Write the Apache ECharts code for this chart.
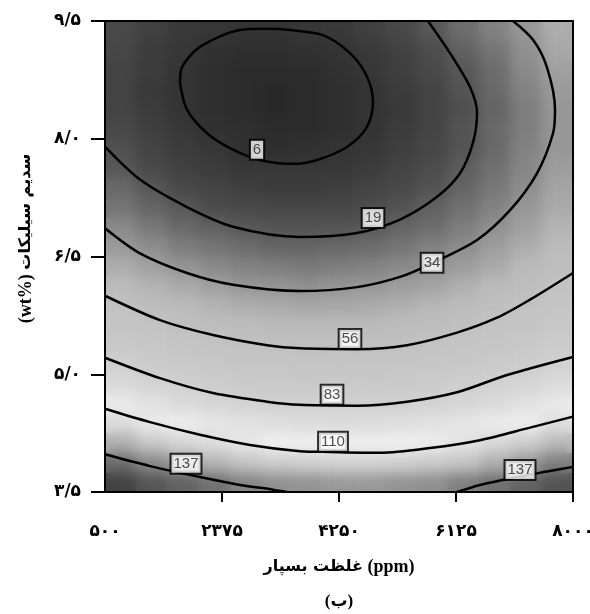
<!DOCTYPE html>
<html>
<head>
<meta charset="utf-8">
<script src="https://cdn.jsdelivr.net/npm/echarts@6/dist/echarts.min.js"></script>
<style>
html,body{margin:0;padding:0;background:#fff;}
#wrap{position:relative;width:590px;height:614px;}
#base,#main{position:absolute;left:0;top:0;width:590px;height:614px;}
#clip{position:absolute;left:105px;top:21px;width:468px;height:471px;overflow:hidden;}
#soft{width:468px;height:471px;filter:blur(7px);}
</style>
</head>
<body>
<div id="wrap">
    <div id="base"></div>
    <div id="clip"><div id="soft"></div></div>
    <div id="main"></div>
</div>
<script>
// سطح پاسخ: مراکز خانه‌ها (غلظت بسپار ppm ، سدیم سیلیکات wt%)
var xCells = [750, 1250, 1750, 2250, 2750, 3250, 3750, 4250, 4750, 5250, 5750, 6250, 6750, 7250, 7750];
var yCells = [3.625, 3.875, 4.125, 4.375, 4.625, 4.875, 5.125, 5.375, 5.625, 5.875, 6.125, 6.375,
              6.625, 6.875, 7.125, 7.375, 7.625, 7.875, 8.125, 8.375, 8.625, 8.875, 9.125, 9.375];
// مقدار پاسخ در هر خانه، از پایین به بالا (برآورد از روی خطوط تراز)
var surfaceRows = [
    [150,144,140,136,132,130,129,128,128,129,130,133,136,140,145],
    [137,131,127,123,120,117,116,115,115,116,118,120,124,128,133],
    [124,119,114,111,108,105,104,103,104,105,106,109,113,117,122],
    [112,107,103, 99, 96, 94, 93, 92, 93, 94, 96, 98,102,106,111],
    [101, 96, 92, 88, 85, 83, 82, 82, 82, 83, 85, 88, 92, 96,101],
    [ 91, 86, 81, 78, 75, 73, 72, 72, 72, 74, 76, 79, 83, 87, 92],
    [ 81, 76, 72, 68, 66, 64, 63, 63, 63, 65, 67, 70, 74, 78, 84],
    [ 71, 67, 63, 59, 57, 55, 54, 54, 55, 56, 59, 62, 66, 70, 76],
    [ 63, 58, 54, 51, 49, 47, 46, 46, 47, 49, 51, 54, 58, 63, 69],
    [ 55, 50, 47, 43, 41, 40, 39, 39, 40, 42, 44, 48, 52, 57, 62],
    [ 48, 43, 40, 37, 34, 33, 32, 33, 34, 36, 38, 42, 46, 51, 57],
    [ 41, 37, 33, 30, 28, 27, 26, 27, 28, 30, 32, 36, 40, 45, 51],
    [ 35, 31, 27, 25, 23, 21, 21, 22, 23, 25, 28, 31, 36, 41, 47],
    [ 30, 26, 22, 20, 18, 17, 17, 17, 18, 21, 23, 27, 32, 37, 43],
    [ 25, 21, 18, 15, 14, 13, 13, 13, 15, 17, 20, 24, 28, 34, 40],
    [ 22, 18, 14, 12, 10,  9,  9, 10, 12, 14, 17, 21, 26, 31, 38],
    [ 18, 14, 11,  9,  7,  7,  7,  7,  9, 12, 15, 19, 24, 29, 36],
    [ 16, 12,  9,  7,  5,  4,  5,  6,  7, 10, 13, 17, 22, 28, 34],
    [ 14, 10,  7,  5,  4,  3,  3,  4,  6,  9, 12, 17, 22, 27, 34],
    [ 12,  9,  6,  4,  3,  2,  3,  4,  6,  8, 12, 16, 21, 27, 34],
    [ 12,  8,  6,  4,  3,  2,  3,  4,  6,  9, 12, 17, 22, 28, 35],
    [ 12,  9,  6,  4,  3,  3,  3,  5,  7, 10, 14, 18, 23, 30, 37],
    [ 13,  9,  7,  5,  4,  4,  5,  6,  8, 11, 15, 20, 25, 32, 39],
    [ 14, 11,  8,  7,  6,  6,  7,  8, 11, 14, 18, 23, 28, 34, 41]
];

// خطوط تراز
var line6 = [[1702,8.71],[1734,8.91],[2022,9.17],[2663,9.385],[3064,9.40],[3465,9.385],[3994,9.32],
             [4426,9.09],[4699,8.79],[4795,8.455],[4699,8.15],[4378,7.895],[3898,7.73],[3513,7.68],
             [2984,7.73],[2551,7.86],[2135,8.07],[1814,8.37],[1702,8.71]];
var line19 = [[500,7.90],[1061,7.48],[1814,7.13],[2551,6.88],[3625,6.75],[4539,6.80],[5227,6.97],
              [5821,7.26],[6189,7.56],[6397,7.95],[6462,8.33],[6349,8.66],[6029,9.09],[5676,9.50]];
var line34 = [[500,6.86],[1061,6.54],[1814,6.29],[2551,6.14],[3625,6.06],[4539,6.11],[5227,6.24],
              [5757,6.42],[6462,6.71],[6991,7.09],[7423,7.56],[7680,8.07],[7712,8.37],[7583,8.91],
              [7359,9.26],[7039,9.50]];
var line56 = [[500,6.00],[1381,5.69],[2231,5.50],[3096,5.37],[3625,5.33],[4539,5.32],[5340,5.37],
              [6141,5.53],[6782,5.72],[7311,5.95],[8000,6.29]];
var line83 = [[500,5.21],[1381,4.95],[2231,4.76],[3096,4.65],[3625,4.61],[4539,4.60],[5340,4.65],
              [6141,4.77],[6943,4.99],[8000,5.22]];
var line110 = [[500,4.56],[1221,4.39],[2022,4.23],[2824,4.10],[3625,4.02],[4106,4.01],[4907,4.00],
               [5708,4.06],[6510,4.16],[7311,4.32],[8000,4.46]];
var line137a = [[500,3.98],[1221,3.83],[2022,3.69],[2663,3.59],[3192,3.53],[3417,3.50]];
var line137b = [[6141,3.50],[6510,3.59],[7103,3.69],[7583,3.76],[8000,3.82]];
var contourLines = [line6, line19, line34, line56, line83, line110, line137a, line137b];

// برچسب خطوط تراز
var labelTexts = ['6', '19', '34', '56', '83', '110', '137', '137'];
var labelPoints = [[2936,7.86],[4795,6.99],[5741,6.42],[4426,5.45],[4138,4.74],[4154,4.14],[1798,3.86],[7151,3.78]];

var xTickValues = [500, 2375, 4250, 6125, 8000];
var xTickLabels = ['۵۰۰', '۲۳۷۵', '۴۲۵۰', '۶۱۲۵', '۸۰۰۰'];
var yTickValues = [3.5, 5, 6.5, 8, 9.5];
var yTickLabels = ['۳/۵', '۵/۰', '۶/۵', '۸/۰', '۹/۵'];

var heatData = [];
for (var j = 0; j < yCells.length; j++) {
    for (var i = 0; i < xCells.length; i++) {
        heatData.push([i, j, surfaceRows[j][i]]);
    }
}

// رنگ خاکستری سطح (یکسان برای لایه تیز و لایه نرم)
function heatOption(gridPos, bg) {
    return {
        backgroundColor: bg,
        animation: false,
        grid: gridPos,
        visualMap: {
            show: false, dimension: 2, min: 0, max: 165,
            inRange: {color: ['#242424', '#4c4c4c', '#8a8a8a', '#bababa', '#c4c4c4', '#cacaca',
                              '#d8d8d8', '#f0f0f0', '#c4c4c4', '#747474', '#424242', '#2a2a2a']}
        },
        xAxis: {type: 'category', data: xCells, show: false},
        yAxis: {type: 'category', data: yCells, show: false},
        series: [{type: 'heatmap', data: heatData, silent: true, itemStyle: {borderWidth: 0}}]
    };
}

var baseChart = echarts.init(document.getElementById('base'));
baseChart.setOption(heatOption({left: 105, top: 21, width: 468, height: 471, outerBoundsMode: 'none'}, '#fff'));
var softChart = echarts.init(document.getElementById('soft'));
softChart.setOption(heatOption({left: 0, top: 0, right: 0, bottom: 0, outerBoundsMode: 'none'}, 'transparent'));

var lineSeries = [];
for (var k = 0; k < contourLines.length; k++) {
    lineSeries.push({
        type: 'line', data: contourLines[k], smooth: 0.3, symbol: 'none', silent: true,
        lineStyle: {color: '#000', width: 2.5}, z: 3
    });
}

var labelData = [];
for (var m = 0; m < labelPoints.length; m++) {
    labelData.push({name: labelTexts[m], value: labelPoints[m]});
}

var faStyle = {fontFamily: 'DejaVu Sans', fontWeight: 'bold', fontSize: 16, color: '#000'};
var enStyle = {fontFamily: '"Liberation Serif", serif', fontWeight: 'bold', fontSize: 18, color: '#000'};

var myChart = echarts.init(document.getElementById('main'));
var option = {
    backgroundColor: 'transparent',
    animation: false,
    grid: {left: 105, top: 21, width: 468, height: 471, show: true, borderColor: '#000', borderWidth: 2,
           backgroundColor: 'transparent', outerBoundsMode: 'none'},
    xAxis: {
        type: 'value', min: 500, max: 8000,
        axisLine: {show: true, lineStyle: {color: '#000', width: 2}},
        axisTick: {show: true, customValues: [2375, 4250, 6125, 8000], length: 10,
                   lineStyle: {color: '#000', width: 2}},
        axisLabel: {
            customValues: xTickValues, margin: 31, color: '#000', fontSize: 17,
            fontWeight: 'bold', fontFamily: 'DejaVu Sans',
            formatter: function (v) { var i = xTickValues.indexOf(v); return i < 0 ? '' : xTickLabels[i]; }
        },
        splitLine: {show: false},
        name: '{fa|غلظت بسپار}{en| (ppm)}', nameLocation: 'middle', nameGap: 66,
        nameTextStyle: {color: '#000', fontSize: 16, fontWeight: 'bold', rich: {fa: faStyle, en: enStyle}}
    },
    yAxis: {
        type: 'value', min: 3.5, max: 9.5,
        axisLine: {show: true, lineStyle: {color: '#000', width: 2}},
        axisTick: {show: true, customValues: yTickValues, length: 14,
                   lineStyle: {color: '#000', width: 2}},
        axisLabel: {
            customValues: yTickValues, margin: 24, color: '#000', fontSize: 17,
            fontWeight: 'bold', fontFamily: 'DejaVu Sans',
            formatter: function (v) { var i = yTickValues.indexOf(v); return i < 0 ? '' : yTickLabels[i]; }
        },
        splitLine: {show: false},
        name: '{en|(wt%) }{fa|سدیم سیلیکات}', nameLocation: 'middle', nameGap: 70, nameRotate: 90,
        nameTextStyle: {color: '#000', fontSize: 16, fontWeight: 'bold', padding: [0, 0, 0, 36],
                        rich: {fa: faStyle, en: enStyle}}
    },
    graphic: [{
        type: 'text', x: 339, y: 602, silent: true,
        style: {text: '(ب)', align: 'center', verticalAlign: 'middle', textAlign: 'center',
                textVerticalAlign: 'middle', fill: '#000', font: 'bold 17px "Liberation Serif", "DejaVu Sans", serif'}
    }],
    series: lineSeries.concat([
        {
            type: 'scatter', data: labelData, silent: true,
            symbol: 'rect', symbolSize: 1, itemStyle: {color: 'rgba(0,0,0,0)'}, z: 5,
            label: {
                show: true, position: 'inside', formatter: '{b}',
                color: '#222', fontSize: 15, fontFamily: '"Liberation Sans", Arial, sans-serif',
                backgroundColor: '#fff', borderColor: '#000', borderWidth: 2,
                padding: [1, 2, 0, 2], lineHeight: 17
            }
        }
    ])
};
myChart.setOption(option);
</script>
</body>
</html>
